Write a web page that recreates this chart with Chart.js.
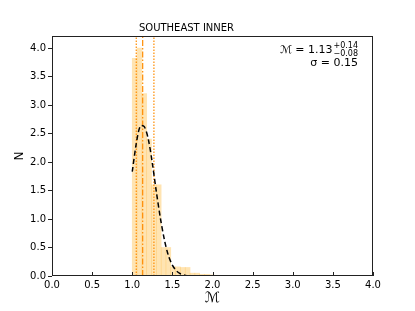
<!DOCTYPE html>
<html>
<head>
<meta charset="utf-8">
<script src="https://cdn.jsdelivr.net/npm/chart.js@4.4.1/dist/chart.umd.min.js"></script>
<style>
  html, body { margin: 0; padding: 0; background: #fff; }
  #wrap { width: 415px; height: 311px; }
</style>
</head>
<body>
<div id="wrap"><canvas id="myChart" width="415" height="311"></canvas></div>
<script>
// histogram bins (centres, width 0.06)
const binCenters = [1.03, 1.09, 1.15, 1.21, 1.27, 1.33, 1.39, 1.45, 1.51, 1.57, 1.63, 1.69, 1.75, 1.81, 1.87, 1.93, 1.99];
const binHeights = [3.82, 4.00, 3.20, 2.40, 1.60, 1.60, 0.50, 0.50, 0.16, 0.16, 0.15, 0.15, 0.05, 0.05, 0.03, 0.03, 0.02];

// dashed fit curve
const curveX = [1.00, 1.05, 1.10, 1.15, 1.20, 1.25, 1.30, 1.35, 1.40, 1.45, 1.50, 1.55, 1.60, 1.65, 1.70, 1.80, 1.90, 2.00, 2.10];
const curveY = [1.83, 2.32, 2.63, 2.62, 2.40, 1.98, 1.48, 1.02, 0.64, 0.36, 0.19, 0.09, 0.04, 0.015, 0.00, 0.00, 0.00, 0.00, 0.00];

// median and errors
const medianVal = 1.13;
const lowerVal = 1.05;
const upperVal = 1.27;
const sigmaVal = 0.15;

const xTicks = [0, 0.5, 1, 1.5, 2, 2.5, 3, 3.5, 4];
const yTicks = [0, 0.5, 1, 1.5, 2, 2.5, 3, 3.5, 4];
const yMax = 4.21;

Chart.defaults.font.family = 'DejaVu Sans';
Chart.defaults.color = '#000';

const orange = '#ff8c00';

function vline(v, dash) {
    return {
        type: 'line',
        data: [{x: v, y: 0}, {x: v, y: yMax}],
        borderColor: orange,
        borderWidth: 1.2,
        borderDash: dash,
        pointRadius: 0,
        order: 1
    };
}

// frame, tick marks and the text box in the corner
const extras = {
    id: 'extras',
    afterDatasetsDraw(chart) {
        const {ctx, chartArea: a, scales: {x, y}} = chart;
        ctx.save();
        ctx.strokeStyle = '#222';
        ctx.lineWidth = 1;
        ctx.strokeRect(a.left + 0.5, a.top + 0.5, a.right - a.left - 1, a.bottom - a.top - 1);
        ctx.beginPath();
        xTicks.forEach(v => {
            const px = Math.round(x.getPixelForValue(v)) + 0.5;
            ctx.moveTo(px, a.bottom);
            ctx.lineTo(px, a.bottom - 4);
        });
        yTicks.forEach(v => {
            const py = Math.round(y.getPixelForValue(v)) + 0.5;
            ctx.moveTo(a.left, py);
            ctx.lineTo(a.left - 4, py);
        });
        ctx.stroke();

        // M = 1.13 +0.14 -0.08 ; sigma = 0.15
        const right = a.right - 15;
        ctx.fillStyle = '#000';
        ctx.textBaseline = 'alphabetic';
        ctx.font = '8px DejaVu Sans';
        const sup = '+' + (upperVal - medianVal).toFixed(2);
        const sub = '\u2212' + (medianVal - lowerVal).toFixed(2);
        const w = Math.max(ctx.measureText(sup).width, ctx.measureText(sub).width);
        ctx.textAlign = 'left';
        ctx.fillText(sup, right - w, a.top + 12);
        ctx.fillText(sub, right - w, a.top + 20);
        ctx.font = '11px DejaVu Sans';
        ctx.textAlign = 'right';
        ctx.fillText('\u2133 = ' + medianVal.toFixed(2), right - w - 1, a.top + 17);
        ctx.fillText('\u03c3 = ' + sigmaVal.toFixed(2), right, a.top + 30);
        ctx.restore();
    }
};

const myChart = document.getElementById('myChart');

let histChart = new Chart(myChart, {
    type: 'bar',
    data: {
        datasets: [
            {
                type: 'line',
                data: curveX.map((v, i) => ({x: v, y: curveY[i]})),
                borderColor: '#000',
                borderWidth: 1.5,
                borderDash: [5, 3],
                pointRadius: 0,
                tension: 0.3,
                order: 0
            },
            vline(medianVal, [6, 2, 1.5, 2]),
            vline(lowerVal, [1.5, 1.5]),
            vline(upperVal, [1.5, 1.5]),
            {
                type: 'bar',
                data: binCenters.map((v, i) => ({x: v, y: binHeights[i]})),
                backgroundColor: 'rgba(255, 165, 0, 0.3)',
                borderWidth: 0,
                barPercentage: 1,
                categoryPercentage: 1,
                order: 2
            }
        ]
    },
    options: {
        responsive: false,
        animation: false,
        events: [],
        layout: { padding: { left: 0, right: 42, top: 0, bottom: 0 } },
        plugins: {
            legend: { display: false },
            tooltip: { enabled: false },
            title: {
                display: true,
                text: 'SOUTHEAST INNER',
                font: { size: 10, weight: 'normal' },
                color: '#000',
                padding: { top: 22, bottom: 2 }
            }
        },
        scales: {
            x: {
                type: 'linear',
                min: 0,
                max: 4,
                offset: false,
                grid: { display: false, drawTicks: false },
                border: { display: false },
                afterBuildTicks: s => { s.ticks = xTicks.map(v => ({value: v})); },
                ticks: {
                    font: { size: 10 },
                    padding: 3,
                    maxRotation: 0,
                    callback: v => v.toFixed(1)
                },
                title: {
                    display: true,
                    text: '\u2133',
                    font: { size: 14 },
                    padding: { top: 0, bottom: 4 }
                },
                afterFit: s => { s.height = 35; }
            },
            y: {
                min: 0,
                max: yMax,
                grid: { display: false, drawTicks: false },
                border: { display: false },
                afterBuildTicks: s => { s.ticks = yTicks.map(v => ({value: v})); },
                ticks: {
                    font: { size: 10 },
                    padding: 6,
                    callback: v => v.toFixed(1)
                },
                title: {
                    display: true,
                    text: 'N',
                    font: { size: 12 },
                    padding: { top: 13, bottom: 0 }
                },
                afterFit: s => { s.width = 52; }
            }
        }
    },
    plugins: [extras]
});
</script>
</body>
</html>
